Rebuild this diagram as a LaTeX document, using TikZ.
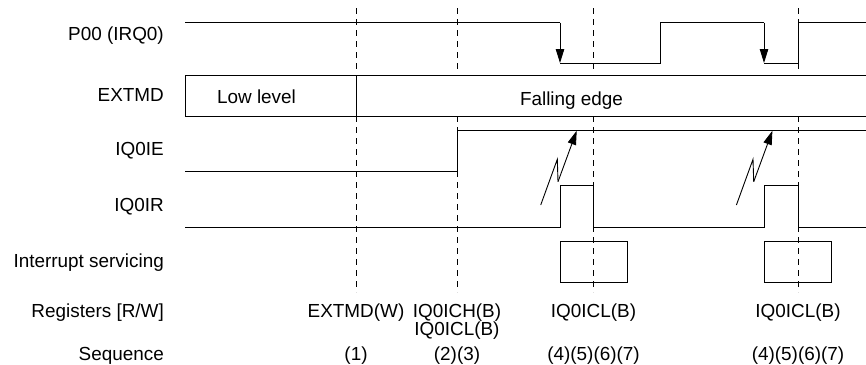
\documentclass[tikz,border=0pt]{standalone}
\usepackage{fontspec}
\setmainfont{Liberation Sans}
\usetikzlibrary{arrows.meta}

\tikzset{
    signal/.style={line width=0.9pt},
    guide/.style={line width=0.9pt, dash pattern=on 6pt off 5pt},
    rowlabel/.style={anchor=base east, font=\fontsize{18.9}{21}\selectfont, inner sep=0pt},
    celllabel/.style={anchor=base, font=\fontsize{18.9}{21}\selectfont, inner sep=0pt},
    trigger/.style={line width=0.9pt, -{Triangle[length=14pt, width=8.5pt]}},
    regionbox/.style={draw, signal, anchor=north west, inner sep=0pt},
}

\begin{document}
\begin{tikzpicture}[x=1pt, y=-1pt]
        \useasboundingbox (0,0) rectangle (866,364);

        % guides
        \foreach \name/\pos in {one/356, two/457, three/593.5, four/798} {
            \coordinate (\name_a) at (\pos,8);
            \coordinate (\name_b) at (\pos,71);
            \coordinate (\name_c) at (\pos,116);
            \coordinate (\name_d) at (\pos,292);
            \draw[guide] (\name_a) -- (\name_b);
            \draw[guide] (\name_c) -- (\name_d);
        }

        % row labels
        \node[rowlabel] (p00) at (164,40) {P00 (IRQ0)};
        \node[rowlabel] (extmd) at (164,101) {EXTMD};
        \node[rowlabel] (ie) at (164,155) {IQ0IE};
        \node[rowlabel] (ir) at (164,211) {IQ0IR};
        \node[rowlabel] (servicing) at (164,267) {Interrupt servicing};
        \node[rowlabel] (registers) at (164,317) {Registers [R/W]};
        \node[rowlabel] (sequence) at (164,360) {Sequence};

        % signals
        \draw[signal] (185,22.5) -- (560,22.5);
        \draw[trigger] (560,22.5) -- (560,63);
        \draw[signal] (560,63) -- (660.5,63) -- (660.5,22.5) -- (764,22.5);
        \draw[trigger] (764,22.5) -- (764,63);
        \draw[signal] (764,63) -- (798,63) -- (798,22.5) -- (866,22.5);

        \node[regionbox, minimum width=171pt, minimum height=41pt] (low) at (185,75) {};
        \node[regionbox, minimum width=512pt, minimum height=41pt] (falling) at (356,75) {};
        \node[celllabel] (lowtext) at (256.5,103) {Low level};
        \node[celllabel] (fallingtext) at (571.5,105) {Falling edge};

        \draw[signal] (185,171) -- (457,171) -- (457,130.5) -- (866,130.5);

        \draw[signal] (185,227) -- (560,227) -- (560,185.5) -- (593.5,185.5) -- (593.5,227)
            -- (764,227) -- (764,185.5) -- (798,185.5) -- (798,227) -- (866,227);

        % lightning arrows
        \foreach \shift in {0,195.7} {
            \draw[signal] (540.7+\shift,205) -- (557.3+\shift,159.3) -- (558+\shift,181.7);
            \draw[trigger] (558+\shift,181.7) -- (576.7+\shift,130.7);
        }

        % servicing boxes
        \node[regionbox, minimum width=67pt, minimum height=41pt] (isr_a) at (560,240.7) {};
        \node[regionbox, minimum width=67pt, minimum height=41pt] (isr_b) at (764,240.7) {};

        % registers
        \node[celllabel] (reg_a) at (356,317) {EXTMD(W)};
        \node[celllabel] (reg_b) at (457,317) {IQ0ICH(B)};
        \node[celllabel] (reg_c) at (457,335) {IQ0ICL(B)};
        \node[celllabel] (reg_d) at (593.5,317) {IQ0ICL(B)};
        \node[celllabel] (reg_e) at (798,317) {IQ0ICL(B)};

        % sequence
        \node[celllabel] (seq_a) at (356,360) {(1)};
        \node[celllabel] (seq_b) at (457,360) {(2)(3)};
        \node[celllabel] (seq_c) at (593.5,360) {(4)(5)(6)(7)};
        \node[celllabel] (seq_d) at (798,360) {(4)(5)(6)(7)};
\end{tikzpicture}
\end{document}
